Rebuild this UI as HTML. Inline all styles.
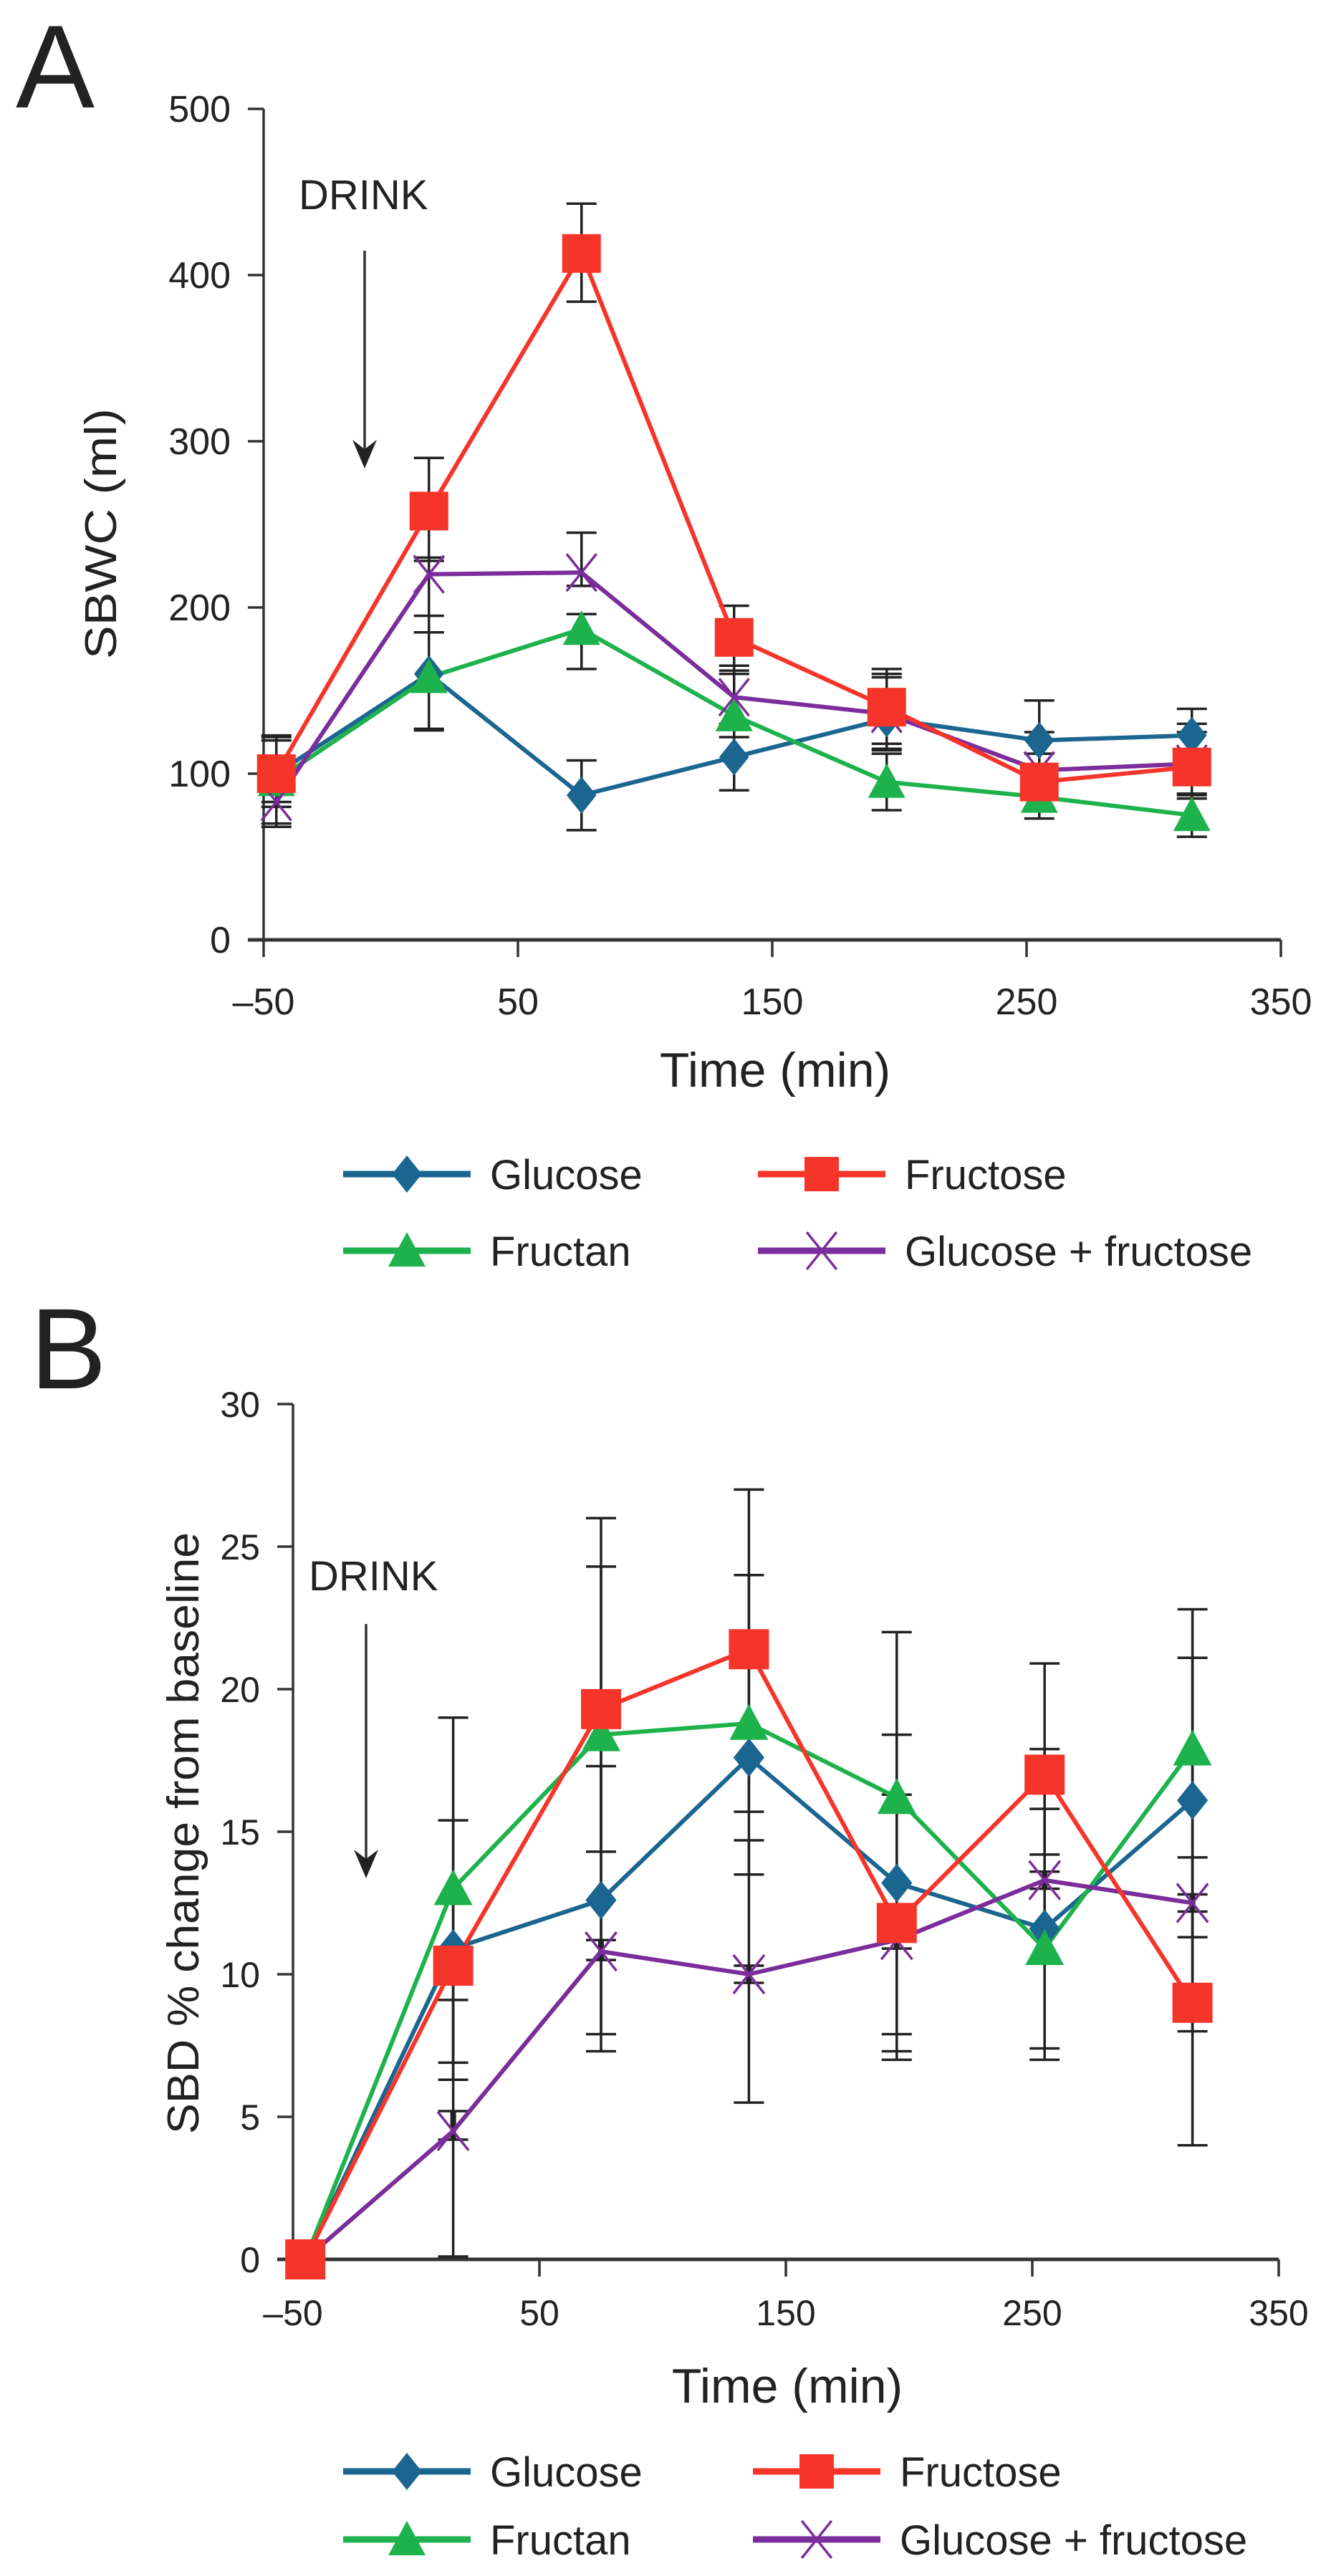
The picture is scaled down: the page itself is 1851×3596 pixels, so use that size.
<!DOCTYPE html>
<html><head><meta charset="utf-8"><style>
html,body{margin:0;padding:0;background:#fff;}
svg{display:block;}
text{font-family:"Liberation Sans",Arial,sans-serif;fill:#222;}
</style></head><body>
<svg id="s" width="1851" height="3596" viewBox="0 0 1851 3596" xmlns="http://www.w3.org/2000/svg">
<rect width="1851" height="3596" fill="#fff"/>
<text x="22" y="150" font-size="165" fill="#111">A</text>
<text x="42" y="1938" font-size="160" fill="#111">B</text>
</svg>
<script>
const S=document.getElementById('s');let h='';
const C={g:'#1b6690',f:'#f5352a',t:'#1db24b',p:'#7b2d9b'};
const T=[-45,15,75,135,195,255,315];
function marker(k,x,y,s){
 if(k=='g')return `<polygon points="${x},${y-s} ${x+s*0.8},${y} ${x},${y+s} ${x-s*0.8},${y}" fill="${C.g}"/>`;
 if(k=='f')return `<rect x="${x-s}" y="${y-s}" width="${2*s}" height="${2*s}" fill="${C.f}"/>`;
 if(k=='t')return `<polygon points="${x},${y-s} ${x+s},${y+s*0.85} ${x-s},${y+s*0.85}" fill="${C.t}"/>`;
 return `<path d="M${x-s*0.8},${y-s} L${x+s*0.8},${y+s} M${x+s*0.8},${y-s} L${x-s*0.8},${y+s}" stroke="${C.p}" stroke-width="3.5"/>`;
}
function panel(o){
 const X=t=>o.x0+(t+50)*o.sx, Y=v=>o.y0-v*o.sy;
 h+=`<line x1="${o.x0}" y1="${Y(o.ymax)}" x2="${o.x0}" y2="${o.y0}" stroke="#333" stroke-width="3.5"/>`;
 h+=`<line x1="${o.x0-22}" y1="${o.y0}" x2="${X(350)}" y2="${o.y0}" stroke="#333" stroke-width="5"/>`;
 for(const v of o.yt){h+=`<line x1="${o.x0-22}" y1="${Y(v)}" x2="${o.x0}" y2="${Y(v)}" stroke="#333" stroke-width="3.5"/>`;
  h+=`<text x="${o.x0-46}" y="${Y(v)+18}" font-size="${o.fs}" text-anchor="end">${v}</text>`;}
 for(const t of [-50,50,150,250,350]){h+=`<line x1="${X(t)}" y1="${o.y0}" x2="${X(t)}" y2="${o.y0+24}" stroke="#333" stroke-width="3.5"/>`;
  h+=`<text x="${X(t)}" y="${o.xly}" font-size="${o.fs}" text-anchor="middle">${t<0?'\u2013'+(-t):t}</text>`;}
 h+=`<text x="${o.tx}" y="${o.ty}" font-size="68" text-anchor="middle">Time (min)</text>`;
 h+=`<text transform="translate(${o.ylx},${o.yly}) rotate(-90)" font-size="62" text-anchor="middle" textLength="${o.yll}" lengthAdjust="spacingAndGlyphs">${o.ylab}</text>`;
 h+=`<text x="${o.dx}" y="${o.dy}" font-size="58">DRINK</text>`;
 h+=`<line x1="${o.ax}" y1="${o.a1}" x2="${o.ax}" y2="${o.a2-20}" stroke="#333" stroke-width="3.5"/>`;
 h+=`<polygon points="${o.ax},${o.a2} ${o.ax-17},${o.a2-40} ${o.ax},${o.a2-27} ${o.ax+17},${o.a2-40}" fill="#222"/>`;
 for(const k of ['g','f','t','p'])o.e[k].forEach((e,i)=>{if(!e)return;const x=X(T[i]);
  h+=`<line x1="${x}" y1="${Y(e[0])}" x2="${x}" y2="${Y(e[1])}" stroke="#222" stroke-width="${k=='p'&&o.thick?8:3.5}"/>`;
  for(const v of e)h+=`<line x1="${x-21}" y1="${Y(v)}" x2="${x+21}" y2="${Y(v)}" stroke="#222" stroke-width="3.5"/>`;});
 for(const k of ['g','t','p','f']){
  h+=`<polyline points="${o.d[k].map((v,i)=>X(T[i])+','+Y(v)).join(' ')}" fill="none" stroke="${C[k]}" stroke-width="6"/>`;
 }
 for(const k of ['g','t','p','f'])o.d[k].forEach((v,i)=>h+=marker(k,X(T[i]),Y(v),k=='f'?o.ms+1:o.ms));
 const L=[['g','Glucose',o.l1x,o.r1],['f','Fructose',o.l2x,o.r1],['t','Fructan',o.l1x,o.r2],['p','Glucose + fructose',o.l2x,o.r2]];
 for(const [k,n,x,y] of L){h+=`<line x1="${x}" y1="${y}" x2="${x+178}" y2="${y}" stroke="${C[k]}" stroke-width="9"/>`+marker(k,x+89,y,k=='f'?24:26);
  h+=`<text x="${x+205}" y="${y+21}" font-size="58">${n}</text>`;}
}
panel({x0:368,sx:3.55,y0:1312,sy:2.32,ymax:500,yt:[0,100,200,300,400,500],fs:52,xly:1416,tx:1082,ty:1517,
 ylx:162,yly:745,yll:350,ylab:'SBWC (ml)',dx:417,dy:292,ax:509,a1:350,a2:654,ms:26,
 l1x:479,l2x:1058,r1:1639,r2:1746,
 d:{g:[100,160,87,110,133,120,123],f:[100,258,413,182,140,95,104],t:[96,158,187,135,95,86,75],p:[83,220,221,146,136,102,106]},
 e:{g:[[80,122],[127,185],[66,108],[90,130],[115,160],[100,144],[108,139]],
    f:[[83,123],[228,290],[384,443],[162,201],[118,163],[80,112],[87,125]],
    t:[[70,120],[126,195],[163,196],[122,160],[78,112],[73,100],[62,88]],
    p:[[68,100],[185,230],[213,245],[128,165],[114,158],[78,125],[85,130]]}});
panel({x0:409,sx:3.44,y0:3154,sy:39.8,ymax:30,yt:[0,5,10,15,20,25,30],fs:50,xly:3246,tx:1099,ty:3354,
 ylx:277,yly:2559,yll:840,ylab:'SBD % change from baseline',dx:431,dy:2220,ax:511,a1:2267,a2:2622,ms:27,thick:1,
 l1x:479,l2x:1051,r1:3450,r2:3545,
 d:{g:[0,10.9,12.6,17.6,13.2,11.6,16.1],f:[0,10.3,19.3,21.4,11.8,17.0,9.0],t:[0,13,18.4,18.8,16.2,10.9,17.9],p:[0,4.5,10.8,10.0,11.2,13.3,12.5]},
 e:{g:[null,[6.9,15.4],[7.9,17.3],[13.5,24.0],[7.9,18.4],[7.4,15.8],[11.3,21.1]],
    f:[null,[0.1,19],[14.3,24.3],[15.7,27],[7.3,16.3],[14.2,20.9],[4,14.1]],
    t:[null,[6.3,9.1],[7.3,26],[5.5,14.7],[7.0,22],[7.0,17.9],[8,22.8]],
    p:[null,[4.2,5.2],[10.5,11.2],[9.7,10.3],[10.9,11.3],[13,13.6],[12.2,12.8]]}});
S.insertAdjacentHTML('beforeend',h);
</script>
</body></html>
